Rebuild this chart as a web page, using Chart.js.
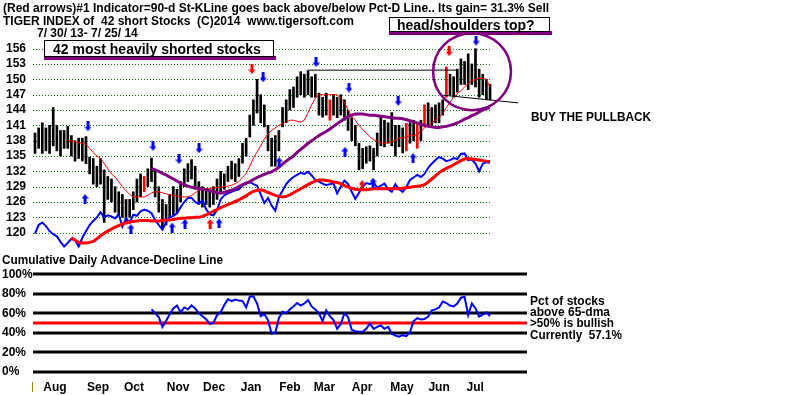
<!DOCTYPE html>
<html>
<head>
<meta charset="utf-8">
<title>Tiger Index of 42 short stocks</title>
<script src="https://cdn.jsdelivr.net/npm/chart.js@4.4.1/dist/chart.umd.min.js"></script>
<style>
  html, body { margin: 0; padding: 0; background: #fff; }
  #chart { display: block; }
</style>
</head>
<body>
<canvas id="chart" width="800" height="395"></canvas>
<script>
// 7/30/13 - 7/25/14, one bar every 2nd session
var monthLabels = ['Aug', 'Sep', 'Oct', 'Nov', 'Dec', 'Jan', 'Feb', 'Mar', 'Apr', 'May', 'Jun', 'Jul'];
var monthPos = [11, 34.6, 54.4, 78.6, 98.4, 118.7, 140, 159, 179.7, 201.6, 222, 241.8];
var priceTicks = [120, 123, 126, 129, 132, 135, 138, 141, 144, 147, 150, 153, 156];
var pctTicks = [0, 20, 40, 60, 80, 100];

var lows = [
  135.5, 136.5, 135.5, 136, 135.5, 137, 136, 135, 136.5, 136.5,
  135, 134, 134.5, 134, 133.5, 131.5, 129.5, 129, 129.5, 122,
  126.5, 126, 124, 123.5, 123, 122, 123, 124.5, 126, 127,
  128, 129, 130, 127, 124, 121, 121.5, 123, 123.5, 124,
  126, 129, 130, 130.5, 128.5, 126, 125, 125.5, 125, 125.5,
  126.5, 128, 128.5, 130, 130.5, 130, 131, 133.6, 135, 138.7,
  141, 143.4, 141.5, 140.7, 136, 133, 133, 136, 140.7, 141.5,
  144, 144.5, 146.5, 147, 146.5, 147, 146.5, 146.5, 143, 142.6,
  143, 142, 143, 142.5, 143, 142, 140, 138, 137, 132.3,
  132.5, 133.6, 134, 132.3, 135, 137, 136.8, 137.5, 137, 135,
  136.8, 135.6, 136, 137.5, 138, 136.5, 138, 140.7, 141, 141,
  141.5, 141.5, 143, 146.5, 147, 146.5, 147.5, 149, 149, 148,
  149, 148.5, 146.5, 147, 146, 146
];
var highs = [
  139.5, 140.5, 141.5, 140.5, 141, 144.5, 141, 140, 140, 140.8,
  139, 138, 138.5, 138.5, 138.8, 134.8, 134.5, 133, 134.5, 132.3,
  131, 130.5, 129, 128, 127.5, 126.5, 126.5, 128, 130.5, 131.5,
  131, 132.5, 134.6, 132, 129, 126.5, 125.5, 127.5, 129, 128.5,
  130, 132.5, 133.5, 134.3, 133, 130, 129, 128.5, 128.5, 129,
  130.5, 132, 131.5, 133, 134, 133.5, 134.5, 137.5, 138.5, 143,
  146, 150, 147, 145, 141, 138.5, 139, 140, 144.5, 146,
  148, 148.5, 150.5, 151.5, 151, 151.6, 150.5, 151, 147.3, 146.5,
  147.3, 146, 147, 146.5, 147, 146, 144, 142.5, 141, 137.5,
  136.5, 136.8, 137, 136.5, 139.5, 142.6, 142, 141.5, 143.5, 141,
  141, 140.5, 141.4, 141.5, 142, 141.5, 142, 145, 145.4, 144.5,
  145, 145.4, 146, 152.4, 151, 150.5, 152, 154, 153.5, 155,
  153, 156, 152, 151, 150, 149
];
var redBars = [30, 81, 102, 105, 107, 113];

// cumulative advance-decline line (blue) and its average (thick red)
var adLine = [
  119.8, 121.5, 122, 121.3, 120.3, 119.7, 119.3, 118.2, 117.3, 118,
  118.8, 118.5, 117.3, 119, 120.3, 121.5, 122.3, 123, 124, 123,
  123.4, 123.2, 122.8, 123.6, 121.2, 122.8, 122, 123.5, 123.3, 124.2,
  124.5, 124.3, 123.8, 122.5, 121.5, 120.6, 122, 123, 123.3, 123.8,
  125, 126, 126.8, 126.8, 126, 125.6, 126.3, 124.6, 123.6, 123.4,
  124.4, 126.5, 127.3, 127.7, 128, 128.3, 128.5, 129.2, 129.6, 129.9,
  129.5, 129.2, 127.5, 125.8, 126.8, 125.3, 124.3, 127, 128.2, 129.5,
  130.3, 130.9, 131.3, 131.7, 131.5, 131.9, 131.2, 130.3, 130, 129.6,
  129.3, 129.5, 129.6, 127.7, 129, 130.2, 129.5, 128, 126.6, 127.8,
  129, 129.7, 129.5, 129.9, 128.8, 129.2, 129.6, 128.5, 128, 129.5,
  128.5, 128, 128.9, 130.3, 130.8, 131.3, 130.9, 131.5, 132.7, 133.5,
  134.2, 134.8, 134.5, 134, 134.2, 134.6, 134.4, 135.4, 135.5, 134.2,
  134.3, 133.5, 132, 133.5, 133.8, 133.7
];
var adMaStart = 10;
var adMa = [
  119, 118.5, 118.1, 118, 118, 118.1, 118.3, 118.8, 119.4, 119.9,
  120.3, 120.7, 121.1, 121.4, 121.7, 121.9, 122.1, 122.2, 122.3, 122.4,
  122.4, 122.4, 122.3, 122.3, 122.3, 122.4, 122.5, 122.5, 122.6, 122.7,
  122.8, 122.8, 122.9, 122.9, 123, 123, 123.2, 123.5, 123.8, 124.2,
  124.5, 124.9, 125.2, 125.5, 125.8, 126.1, 126.4, 126.8, 127.2, 127.7,
  128.1, 128.3, 128.4, 128.2, 127.9, 127.6, 127.3, 127.1, 127, 127.1,
  127.4, 127.8, 128.2, 128.6, 129, 129.4, 129.8, 130.1, 130.3, 130.3,
  130.2, 130.1, 129.9, 129.8, 129.6, 129.2, 128.9, 128.7, 128.5, 128.4,
  128.4, 128.4, 128.5, 128.6, 128.6, 128.6, 128.6, 128.6, 128.6, 128.6,
  128.6, 128.7, 128.8, 128.9, 129, 129.1, 129.2, 129.4, 129.9, 130.5,
  131.1, 131.7, 132.2, 132.6, 132.9, 133.3, 133.7, 134.1, 134.4, 134.5,
  134.4, 134.3, 134.2, 134.1, 134, 133.9
];

// 21-day (thin red) and 65-day (purple) averages of the index
var ma21Start = 9;
var ma21 = [
  138, 138, 137.8, 137.6, 137.5, 137.3, 136.5, 135.7, 135, 134.6,
  133.5, 132.5, 131.5, 130.9, 130, 129, 128.2, 127.5, 127, 127,
  127, 127, 127.3, 127.8, 128, 128, 127.8, 127.6, 127.4, 127.3,
  127.2, 127, 127, 127, 127.3, 127.8, 128.3, 128.5, 128.6, 128.7,
  128.7, 128.8, 128.9, 129, 129.1, 129.3, 129.6, 130, 130.8, 131.6,
  133, 134.6, 135.8, 137, 138.3, 139.3, 140, 140.5, 141, 141.3,
  141.6, 142, 142, 141.8, 141.6, 142, 143.5, 145, 146.3, 147,
  147, 147, 147, 147, 147, 146.3, 145.5, 144, 142.8, 142,
  141, 140.2, 139.5, 138.8, 138.2, 137.9, 137.6, 137.5, 137.6, 137.8,
  138.1, 138.5, 138.6, 138.8, 139, 139, 139.3, 139.8, 140.5, 141,
  141.5, 142, 142.5, 143.3, 144.5, 145.5, 146.5, 147.2, 147.8, 148.5,
  149.2, 149.7, 150, 150.2, 150.2, 150, 148.5
];
var ma65Start = 32;
var ma65 = [
  132.6, 132.3, 132, 131.6, 131.3, 130.9, 130.5, 130.1, 129.7, 129.4,
  129.1, 128.9, 128.8, 128.7, 128.5, 128.4, 128.2, 128, 127.8, 127.7,
  127.9, 128.1, 128.3, 128.6, 129, 129.4, 129.7, 130, 130.4, 130.8,
  131.1, 131.4, 131.7, 131.9, 132.3, 132.8, 133.4, 134, 134.5, 135,
  135.7, 136.3, 136.9, 137.5, 138, 138.5, 139, 139.4, 139.8, 140.3,
  140.8, 141.3, 141.8, 142.3, 142.7, 143, 143.2, 143.2, 143.2, 143.1,
  143, 143, 142.9, 142.8, 142.7, 142.6, 142.5, 142.4, 142.4, 142.3,
  142.1, 141.9, 141.7, 141.5, 141.2, 141, 140.8, 140.7, 140.6, 140.6,
  140.7, 140.8, 141, 141.2, 141.5, 141.8, 142.2, 142.5, 142.9, 143.2,
  143.6, 144, 144.3, 144.5
];

// pct of stocks above 65-dma (lower panel)
var pctStart = 32;
var pctAbove = [
  64, 60, 56, 46, 52, 59, 65, 68, 61, 66,
  64, 68, 65, 60, 57, 54, 49, 50, 58, 61,
  68.5, 74.5, 72.5, 74, 73, 72.5, 66, 77, 77.5, 70,
  57, 59, 53, 39, 40, 55, 61.6, 60, 64, 67,
  70.5, 68, 70, 73.5, 67, 64, 60, 52, 63, 57,
  53, 44, 49, 60, 56, 43, 41.5, 41, 41, 44,
  49.5, 44, 46, 47.5, 44, 46, 39, 37, 36, 37.5,
  36.5, 40.5, 52, 55, 53.5, 54, 56.5, 63, 64, 66,
  72, 70.5, 68, 67, 70, 76, 77, 58, 70, 65,
  56.5, 58.5, 61, 57.1
];

// signal arrows: [session, price]
var blueDown = [[29.1, 140.8], [64.8, 137], [79.1, 134.4], [90.1, 136.5], [125.3, 150.4], [154.4, 153.4], [172.5, 148.4], [199.5, 145.8], [242.3, 157.6]];
var blueUp = [[27.5, 126.6], [52.7, 120.7], [75.3, 121], [82.4, 121.7], [101.1, 121.8], [134.1, 133.8], [170.3, 135.8], [185.7, 129.8], [207.7, 134.6]];
var redUp = [[96.2, 121.7], [179.7, 129.3]];
var redDown = [[119.2, 152], [227.5, 155.5]];

// drawn trend lines
var topLine = [[149.3, 151.8], [232.4, 151.8]];
var neckLine = [[224.2, 146.9], [265.4, 145.4]];
var hsCircle = { x: 240.1, y: 151.5, rx: 21.4, ry: 7.53 };

var sessions = lows.map(function (v, i) { return i * 2; });

function series(values, start) {
  return values.map(function (v, i) { return { x: sessions[start + i], y: v }; });
}
function pairs(list) {
  return list.map(function (p) { return { x: p[0], y: p[1] }; });
}

function makeArrow(color, up) {
  var c = document.createElement('canvas');
  c.width = 7; c.height = 10;
  var g = c.getContext('2d');
  g.fillStyle = color;
  g.beginPath();
  if (up) {
    g.moveTo(3.5, 0); g.lineTo(7, 4.5); g.lineTo(0, 4.5);
    g.closePath(); g.fill();
    g.fillRect(2, 4, 3, 6);
  } else {
    g.fillRect(2, 0, 3, 6);
    g.moveTo(0, 5.5); g.lineTo(7, 5.5); g.lineTo(3.5, 10);
    g.closePath(); g.fill();
  }
  return c;
}

var FONT = '"Liberation Sans", Arial, sans-serif';
Chart.defaults.font.family = FONT;
Chart.defaults.font.weight = 'bold';
Chart.defaults.font.size = 12;
Chart.defaults.color = '#000';

function label(ctx, str, x, y, maxW, size, color) {
  ctx.font = 'bold ' + (size || 12) + 'px ' + FONT;
  ctx.fillStyle = color || '#000';
  ctx.textAlign = 'left';
  ctx.textBaseline = 'alphabetic';
  ctx.fillText(str, x, y, maxW);
}

function noteBox(ctx, x, y, w, h, str, tx, ty, tw) {
  ctx.fillStyle = '#800080';
  ctx.fillRect(x, y + h - 1, w + 2, 4);
  ctx.fillStyle = '#fff';
  ctx.fillRect(x, y, w, h);
  ctx.strokeStyle = '#000';
  ctx.lineWidth = 1;
  ctx.strokeRect(x + 0.5, y + 0.5, w - 1, h - 1);
  label(ctx, str, tx, ty, tw, 14);
}

var panels = {
  id: 'panels',
  beforeDatasetsDraw: function (chart) {
    var ctx = chart.ctx, area = chart.chartArea;
    var xs = chart.scales.x, ys = chart.scales.y, y2 = chart.scales.y2;
    var xEnd = xs.getPixelForValue(251);
    ctx.save();
    ctx.strokeStyle = '#008000';
    ctx.lineWidth = 1;
    ctx.setLineDash([1, 2]);
    priceTicks.forEach(function (v) {
      var py = Math.round(ys.getPixelForValue(v)) + 0.5;
      ctx.beginPath(); ctx.moveTo(area.left, py); ctx.lineTo(xEnd, py); ctx.stroke();
    });
    ctx.setLineDash([]);
    ctx.lineWidth = 3;
    pctTicks.concat([50]).forEach(function (v) {
      var py = Math.round(y2.getPixelForValue(v));
      ctx.strokeStyle = v === 50 ? '#ff0000' : '#000';
      ctx.beginPath(); ctx.moveTo(area.left, py); ctx.lineTo(area.right, py); ctx.stroke();
    });
    ctx.font = 'bold 12px ' + FONT;
    ctx.fillStyle = '#000';
    ctx.textBaseline = 'middle';
    ctx.textAlign = 'left';
    pctTicks.forEach(function (v) {
      ctx.fillText(v + '%', 2, y2.getPixelForValue(v));
    });
    ctx.fillStyle = '#a08000';
    ctx.fillRect(32, 382, 1, 10);
    ctx.restore();
  },
  afterDatasetsDraw: function (chart) {
    var ctx = chart.ctx;
    var xs = chart.scales.x, ys = chart.scales.y;
    ctx.save();
    var cx = xs.getPixelForValue(hsCircle.x), cy = ys.getPixelForValue(hsCircle.y);
    var rx = xs.getPixelForValue(hsCircle.x + hsCircle.rx) - cx;
    var ry = cy - ys.getPixelForValue(hsCircle.y + hsCircle.ry);
    ctx.strokeStyle = '#800080';
    ctx.lineWidth = 2.5;
    ctx.beginPath();
    ctx.ellipse(cx, cy, rx, ry, 0, 0, Math.PI * 2);
    ctx.stroke();

    label(ctx, '(Red arrows)#1 Indicator=90-d St-KLine goes back above/below Pct-D Line.. Its gain= 31.3% Sell', 3, 12, 557);
    label(ctx, 'TIGER INDEX of  42 short Stocks  (C)2014  www.tigersoft.com', 3, 25, 354);
    label(ctx, '7/ 30/ 13- 7/ 25/ 14', 37, 37, 118);
    noteBox(ctx, 44, 40, 230, 17, '42 most heavily shorted stocks', 53, 53.5, 210);
    noteBox(ctx, 389, 17, 161, 15, 'head/shoulders top?', 397, 30, 141);
    label(ctx, 'BUY THE PULLBACK', 531, 121, 120);
    label(ctx, 'Cumulative Daily Advance-Decline Line', 2, 264, 221);
    label(ctx, 'Pct of stocks', 530, 305, 76);
    label(ctx, 'above 65-dma', 530, 316, 80);
    label(ctx, '>50% is bullish', 530, 327, 84);
    label(ctx, 'Currently  57.1%', 530, 339, 92);
    ctx.restore();
  }
};

var ctx = document.getElementById('chart');

new Chart(ctx, {
  type: 'line',
  data: {
    datasets: [
      {
        type: 'scatter', data: pairs(blueDown), pointStyle: makeArrow('#0000ff', false),
        order: 1, clip: false
      },
      {
        type: 'scatter', data: pairs(blueUp), pointStyle: makeArrow('#0000ff', true),
        order: 1, clip: false
      },
      {
        type: 'scatter', data: pairs(redUp), pointStyle: makeArrow('#ff0000', true),
        order: 1, clip: false
      },
      {
        type: 'scatter', data: pairs(redDown), pointStyle: makeArrow('#ff0000', false),
        order: 1, clip: false
      },
      {
        data: series(pctAbove, pctStart), yAxisID: 'y2',
        borderColor: '#0000ff', borderWidth: 2, pointRadius: 0, order: 2
      },
      {
        data: pairs(topLine), borderColor: '#000', borderWidth: 1, pointRadius: 0, order: 3
      },
      {
        data: pairs(neckLine), borderColor: '#000', borderWidth: 1, pointRadius: 0, order: 3, clip: false
      },
      {
        data: series(ma65, ma65Start), borderColor: '#800080', borderWidth: 3, pointRadius: 0, order: 4
      },
      {
        data: series(ma21, ma21Start), borderColor: '#ff0000', borderWidth: 1, pointRadius: 0, order: 5
      },
      {
        data: series(adMa, adMaStart), borderColor: '#ff0000', borderWidth: 3, pointRadius: 0, order: 6
      },
      {
        data: series(adLine, 0), borderColor: '#0000ff', borderWidth: 2, pointRadius: 0, order: 7
      },
      {
        type: 'bar',
        data: sessions.map(function (s, i) { return { x: s, y: [lows[i], highs[i]] }; }),
        backgroundColor: sessions.map(function (s, i) { return redBars.indexOf(i) >= 0 ? '#ff0000' : '#000'; }),
        barThickness: 2,
        order: 8
      }
    ]
  },
  options: {
    responsive: false,
    animation: false,
    devicePixelRatio: 1,
    layout: { padding: { top: 40, right: 273, left: 0, bottom: 0 } },
    plugins: { legend: { display: false }, tooltip: { enabled: false } },
    elements: { line: { tension: 0 } },
    scales: {
      x: {
        type: 'linear', min: -1.1, max: 270.3, offset: false,
        grid: { display: false, drawTicks: false, tickLength: 0 }, border: { display: false },
        afterBuildTicks: function (s) { s.ticks = monthPos.map(function (v) { return { value: v }; }); },
        afterFit: function (s) { s.height = 23; },
        ticks: {
          autoSkip: false, maxRotation: 0, padding: 8,
          callback: function (v, i) { return monthLabels[i]; }
        }
      },
      y: {
        type: 'linear', position: 'left', min: 92.74, max: 157.7,
        grid: { display: false, drawTicks: false, tickLength: 0 }, border: { display: false },
        afterBuildTicks: function (s) { s.ticks = priceTicks.map(function (v) { return { value: v }; }); },
        afterFit: function (s) { s.width = 33; },
        ticks: { padding: 7 }
      },
      y2: {
        type: 'linear', position: 'left', display: false, min: -0.31, max: 340.55
      }
    }
  },
  plugins: [panels]
});
</script>
</body>
</html>
